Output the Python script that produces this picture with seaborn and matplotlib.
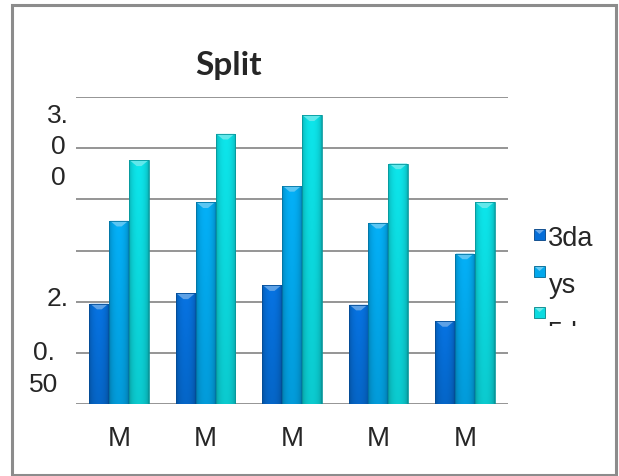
import numpy as np
import pandas as pd
import seaborn as sns
import matplotlib.pyplot as plt
from matplotlib.patches import Rectangle, Polygon
from matplotlib.transforms import Bbox, TransformedBbox

# Data
categories = ["M1", "M2", "M3", "M4", "M5"]
cat_labels = ["M", "M", "M", "M", "M"]
series = ["3da", "ys", "5da"]
s1 = [0.98, 1.08, 1.16, 0.97, 0.81]
s2 = [1.79, 1.97, 2.13, 1.77, 1.47]
s3 = [2.38, 2.64, 2.82, 2.35, 1.97]
ytick_text = ["3.\n0\n0", "2.", "0.\n50"]
colors = ["#066ed8", "#03a8ec", "#0cdbe0"]

df = pd.DataFrame({
    "cat": categories * 3,
    "series": [series[0]] * 5 + [series[1]] * 5 + [series[2]] * 5,
    "value": s1 + s2 + s3,
})

W, H = 619, 476
sns.set_style("white")
plt.rcParams["font.family"] = ["Liberation Sans", "DejaVu Sans"]

fig = plt.figure(figsize=(W / 100, H / 100), dpi=100)


def fx(px):
    return px / W


def fy(py):
    return 1 - py / H


ax = fig.add_axes([fx(76), fy(404), fx(508) - fx(76), fy(97) - fy(404)])
sns.barplot(data=df, x="cat", y="value", hue="series", palette=colors,
            width=0.69, gap=0, legend=False, ax=ax, saturation=1,
            edgecolor="none")

ax.set_ylim(0, 3.0)
ax.set_xlim(-0.5, 4.5)
ax.set_yticks(np.arange(0, 3.01, 0.5))
ax.set_yticklabels([])
ax.tick_params(axis="y", length=0)
ax.grid(axis="y", color="#8c8c8c", lw=1.3)
ax.set_axisbelow(True)
ax.set_xticks(range(5))
ax.set_xticklabels(cat_labels, fontsize=20)
ax.tick_params(axis="x", length=0, pad=16)
ax.set_xlabel("")
ax.set_ylabel("")
sns.despine(ax=ax, left=True, bottom=True)


def shade(c, f):
    rgb = np.array(plt.matplotlib.colors.to_rgb(c))
    if f >= 1:
        return rgb + (1 - rgb) * (f - 1)
    return rgb * f


# bevelled look on bars
bars = list(ax.patches)
for p in bars:
    x0 = p.get_x()
    w = p.get_width()
    h = p.get_height()
    base = np.array(p.get_facecolor()[:3])
    t = np.linspace(0, 1, 40)
    prof = 0.72 + 0.33 * np.sin(np.pi * t) ** 0.4
    v = np.linspace(1.0, 0.88, 60)
    img = np.clip(base[None, None, :] * prof[None, :, None] * v[:, None, None], 0, 1)
    im = ax.imshow(img, extent=[x0, x0 + w, 0, h], aspect="auto",
                   origin="upper", zorder=p.get_zorder() + 0.1)
    im.set_clip_path(p)
    d = 0.055
    light = shade(base, 1.35)
    ax.add_patch(Polygon([(x0 + w * 0.04, h), (x0 + w * 0.96, h),
                          (x0 + w * 0.62, h - d), (x0 + w * 0.38, h - d)],
                         closed=True, facecolor=light, edgecolor="none",
                         zorder=p.get_zorder() + 0.2))
    ax.add_patch(Rectangle((x0, 0), w, h, fill=False,
                           edgecolor=shade(base, 0.7), lw=0.6,
                           zorder=p.get_zorder() + 0.3))

ax.set_xlim(-0.5, 4.5)
ax.set_ylim(0, 3.0)

# y labels (as shown, wrapped); baseline is the last line's
fig.text(fx(58), fy(185), ytick_text[0], fontsize=19, ha="center",
         va="baseline", linespacing=1.38, multialignment="center")
fig.text(fx(58), fy(306.5), ytick_text[1], fontsize=19, ha="center",
         va="baseline")
fig.text(fx(44), fy(391.5), ytick_text[2], fontsize=19, ha="center",
         va="baseline", linespacing=1.38, multialignment="center")

# title
fig.text(fx(229), fy(75), "Split", fontsize=24, fontweight="bold",
         family=["Lato", "DejaVu Sans"], ha="center", va="baseline")

# legend
marker_y = [229, 266, 307]
for c, my in zip(colors, marker_y):
    fig.add_artist(Rectangle((fx(534), fy(my + 11)), fx(11), 11 / H,
                             transform=fig.transFigure,
                             facecolor=c, edgecolor=shade(c, 0.6), lw=0.6))
    fig.add_artist(Polygon([(fx(535), fy(my + 1)), (fx(544), fy(my + 1)),
                            (fx(539.5), fy(my + 5))], closed=True,
                           transform=fig.transFigure,
                           facecolor=shade(c, 1.4), edgecolor="none"))
fig.text(fx(548), fy(246), series[0], fontsize=19.5, va="baseline")
fig.text(fx(549), fy(293), series[1], fontsize=19.5, va="baseline")
t3 = fig.text(fx(548), fy(341), series[2], fontsize=19.5, va="baseline")
clip = Bbox([[fx(520), fy(326)], [fx(610), fy(300)]])
t3.set_clip_box(TransformedBbox(clip, fig.transFigure))
t3.set_clip_on(True)

# outer border
fig.add_artist(Rectangle((fx(11.5), fy(474.5)), fx(615.5) - fx(11.5),
                         fy(4.5) - fy(474.5), transform=fig.transFigure,
                         fill=False, edgecolor="#8c8c8c", lw=2.2))

fig.savefig("out.png", dpi=100)
